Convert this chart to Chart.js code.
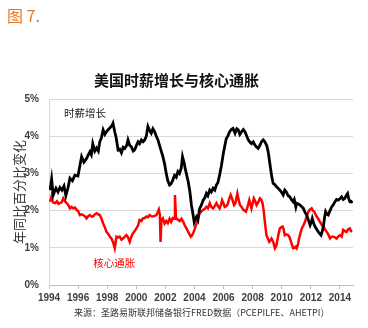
<!DOCTYPE html>
<html lang="zh">
<head>
<meta charset="UTF-8">
<title>美国时薪增长与核心通胀</title>
<script src="https://cdn.jsdelivr.net/npm/chart.js@4.4.1/dist/chart.umd.min.js"></script>
<style>
  body { margin: 0; background: #fff; }
  .wrap { position: relative; width: 368px; height: 328px; }
  #fig { position: absolute; left: 7px; top: 3px; font: 16px "Noto Sans CJK SC", sans-serif; color: #E87722; }
  #src { position: absolute; left: 74px; top: 306px; font: 9px "Noto Sans CJK SC", sans-serif; color: #333; white-space: nowrap; }
</style>
</head>
<body>
<div class="wrap">
  <canvas id="myChart" width="368" height="328"></canvas>
  <div id="fig">图 7.</div>
  <div id="src">来源：圣路易斯联邦储备银行FRED数据（PCEPILFE、AHETPI）</div>
</div>

<script>
// 时薪增长 (AHETPI, 年同比 %)
const wageYear = [1994.07,1994.18,1994.29,1994.48,1994.62,1994.75,1994.89,1995.03,1995.16,1995.3,1995.44,1995.61,1995.78,1995.99,
  1996.12,1996.24,1996.4,1996.58,1996.7,1996.81,1996.91,1997.01,1997.15,1997.27,1997.39,1997.49,1997.6,1997.72,1997.84,1997.95,
  1998.08,1998.18,1998.32,1998.4,1998.52,1998.62,1998.75,1998.86,1998.98,1999.1,1999.21,1999.34,1999.43,1999.55,1999.66,1999.79,1999.89,
  2000.01,2000.12,2000.23,2000.35,2000.47,2000.58,2000.69,2000.8,2000.92,2001.03,2001.14,2001.26,2001.38,2001.49,2001.64,2001.83,2001.95,
  2002.06,2002.17,2002.29,2002.39,2002.51,2002.63,2002.75,2002.86,2002.97,2003.09,2003.18,2003.28,2003.38,2003.57,2003.69,2003.79,2003.9,2003.98,
  2004.07,2004.14,2004.24,2004.36,2004.48,2004.6,2004.72,2004.82,2004.92,2005.05,2005.16,2005.28,2005.4,2005.51,2005.61,2005.73,2005.85,2005.97,
  2006.09,2006.19,2006.29,2006.42,2006.53,2006.65,2006.79,2006.91,2007.01,2007.12,2007.24,2007.36,2007.47,2007.6,2007.7,2007.8,2007.92,
  2008.04,2008.16,2008.28,2008.38,2008.49,2008.61,2008.73,2008.84,2008.97,2009.07,2009.23,2009.32,2009.41,2009.53,2009.64,2009.75,2009.87,2009.98,
  2010.1,2010.21,2010.32,2010.44,2010.55,2010.66,2010.78,2010.86,2010.97,2011.03,2011.14,2011.26,2011.38,2011.49,2011.6,2011.72,2011.83,2011.95,
  2012.04,2012.1,2012.2,2012.29,2012.4,2012.51,2012.61,2012.7,2012.79,2012.86,2012.94,2013.02,2013.11,2013.2,2013.32,2013.43,2013.54,2013.66,2013.77,2013.88,
  2014.0,2014.12,2014.23,2014.34,2014.43,2014.53,2014.62,2014.68,2014.77,2014.84];
const wageRate = [2.55,2.85,2.42,2.6,2.5,2.62,2.55,2.66,2.4,2.6,2.87,2.8,2.95,2.93,
  3.2,3.45,3.3,3.4,3.5,3.58,3.5,3.8,3.6,3.68,3.6,3.85,3.95,4.17,4.05,4.12,
  4.18,4.22,4.28,4.35,4.12,3.95,3.63,3.65,3.55,3.7,3.67,3.75,3.9,3.75,3.72,3.6,3.63,
  3.75,3.85,3.8,3.9,3.85,3.9,4.0,4.26,4.15,4.08,4.2,4.12,4.0,3.9,3.7,3.45,3.25,
  3.0,2.8,2.69,2.72,2.82,2.95,2.9,3.05,3.0,3.14,3.45,3.3,3.1,2.78,2.5,2.15,1.9,1.7,
  1.8,1.84,1.75,2.06,2.15,2.28,2.35,2.46,2.4,2.55,2.5,2.6,2.55,2.69,2.75,2.96,3.2,3.5,
  3.75,3.94,4.0,4.12,4.18,4.21,4.08,4.2,4.17,4.05,4.12,4.18,4.12,4.0,3.9,3.85,3.8,
  3.85,3.76,3.7,3.67,3.75,3.85,3.9,3.85,3.75,3.58,3.14,2.9,2.73,2.7,2.64,2.6,2.55,2.5,
  2.42,2.55,2.5,2.4,2.37,2.3,2.24,2.3,2.1,2.2,2.18,2.15,2.1,2.06,1.95,1.88,1.75,1.61,
  1.7,1.79,1.65,1.57,1.5,1.43,1.38,1.34,1.45,1.57,1.8,1.97,1.9,1.88,2.0,2.1,2.15,2.24,2.3,2.28,
  2.32,2.37,2.3,2.33,2.4,2.46,2.3,2.24,2.25,2.2];

// 核心通胀 (PCEPILFE, 年同比 %)
const coreYear = [1994.07,1994.18,1994.27,1994.41,1994.55,1994.65,1994.75,1994.87,1994.98,1995.1,1995.21,1995.32,1995.44,1995.55,1995.66,1995.78,1995.9,
  1996.01,1996.12,1996.24,1996.35,1996.47,1996.58,1996.69,1996.81,1996.92,1997.03,1997.15,1997.27,1997.38,1997.49,1997.61,1997.72,1997.84,1997.95,
  1998.06,1998.18,1998.29,1998.4,1998.52,1998.64,1998.75,1998.86,1998.98,1999.09,1999.21,1999.32,1999.43,1999.55,1999.66,1999.77,1999.89,
  2000.01,2000.12,2000.23,2000.35,2000.46,2000.58,2000.69,2000.8,2000.92,2001.03,2001.14,2001.26,2001.38,2001.47,2001.55,2001.62,2001.67,2001.73,2001.83,2001.95,
  2002.06,2002.17,2002.29,2002.4,2002.51,2002.6,2002.66,2002.73,2002.88,2002.99,2003.11,2003.23,2003.34,2003.45,2003.57,2003.66,2003.75,2003.83,2003.91,
  2004.02,2004.14,2004.25,2004.36,2004.48,2004.6,2004.71,2004.82,2004.93,2005.05,2005.16,2005.28,2005.39,2005.51,2005.62,2005.73,2005.82,2005.9,2005.99,
  2006.08,2006.17,2006.26,2006.38,2006.49,2006.6,2006.72,2006.81,2006.95,2007.03,2007.13,2007.24,2007.36,2007.45,2007.54,2007.65,2007.77,2007.86,2007.92,
  2008.0,2008.08,2008.18,2008.27,2008.38,2008.5,2008.59,2008.68,2008.76,2008.84,2008.95,2009.05,2009.14,2009.22,2009.3,2009.42,2009.53,2009.62,2009.68,2009.77,2009.87,2009.96,
  2010.05,2010.13,2010.21,2010.32,2010.44,2010.52,2010.6,2010.69,2010.78,2010.87,2010.97,2011.03,2011.12,2011.19,2011.28,2011.38,2011.49,2011.6,2011.72,2011.83,2011.95,
  2012.06,2012.15,2012.24,2012.32,2012.4,2012.51,2012.63,2012.75,2012.86,2012.97,2013.09,2013.2,2013.32,2013.43,2013.54,2013.66,2013.77,2013.88,
  2014.0,2014.12,2014.23,2014.34,2014.45,2014.57,2014.68,2014.77,2014.84];
const coreRate = [2.24,2.39,2.22,2.2,2.25,2.18,2.2,2.22,2.33,2.25,2.2,2.15,2.06,2.1,2.06,2.08,2.02,
  1.98,1.88,1.9,1.88,1.85,1.79,1.85,1.88,1.84,1.84,1.9,1.93,1.9,1.88,1.78,1.66,1.55,1.43,
  1.38,1.3,1.25,1.16,0.99,1.3,1.28,1.3,1.22,1.25,1.3,1.34,1.28,1.16,1.3,1.39,1.45,
  1.52,1.6,1.75,1.72,1.79,1.8,1.84,1.82,1.88,1.85,1.84,1.86,1.88,1.95,2.03,1.9,1.16,1.75,1.79,1.65,
  1.72,1.66,1.78,1.7,1.8,1.78,2.42,1.8,1.75,1.72,1.78,1.7,1.6,1.52,1.43,1.36,1.3,1.33,1.39,
  1.5,1.66,1.8,1.93,1.98,2.02,2.05,2.1,2.06,2.2,2.1,2.06,2.12,2.2,2.12,2.06,2.15,2.28,2.2,
  2.1,2.12,2.15,2.3,2.42,2.3,2.15,2.2,2.46,2.3,2.15,2.1,2.02,2.0,1.97,2.1,2.28,2.15,2.06,
  2.2,2.33,2.25,2.15,2.22,2.33,2.3,2.2,2.0,1.7,1.34,1.25,1.16,1.2,1.25,1.15,0.99,1.05,1.16,1.35,1.52,1.55,
  1.57,1.5,1.34,1.36,1.34,1.3,1.21,1.1,0.99,1.0,1.03,0.99,1.1,1.25,1.38,1.52,1.6,1.7,1.85,1.97,2.03,
  2.06,2.0,1.97,1.9,1.84,1.78,1.7,1.62,1.57,1.5,1.43,1.36,1.25,1.3,1.3,1.28,1.25,1.3,
  1.34,1.3,1.48,1.45,1.43,1.5,1.52,1.45,1.43];

const xTickYears = [1994,1996,1998,2000,2002,2004,2006,2008,2010,2012,2014];
const yTickValues = [0,1,2,3,4,5];
const seriesNames = ['时薪增长', '核心通胀'];
// label anchors in data units
const labelSpots = [[1996.47, 4.63], [1998.49, 0.58]];

const cjk = '"Noto Sans CJK SC", sans-serif';
const colors = ['#000000', '#FF0000'];

const toPts = (xs, ys) => xs.map((x, i) => ({x: x, y: ys[i]}));

// writes the series names inside the plot
const seriesLabels = {
  id: 'seriesLabels',
  afterDraw(chart) {
    const ctx = chart.ctx;
    const xs = chart.scales.x, ys = chart.scales.y;
    ctx.save();
    ctx.textAlign = 'center';
    ctx.textBaseline = 'middle';
    seriesNames.forEach((name, i) => {
      ctx.font = '10.5px ' + cjk;
      ctx.fillStyle = i === 0 ? '#1a1a1a' : '#FF0000';
      ctx.fillText(name, xs.getPixelForValue(labelSpots[i][0]), ys.getPixelForValue(labelSpots[i][1]));
    });
    ctx.restore();
  }
};

const ctx = document.getElementById('myChart').getContext('2d');
new Chart(ctx, {
  type: 'line',
  data: {
    datasets: [
      { label: seriesNames[0], data: toPts(wageYear, wageRate), borderColor: colors[0], borderWidth: 2.8 },
      { label: seriesNames[1], data: toPts(coreYear, coreRate), borderColor: colors[1], borderWidth: 2.5 }
    ]
  },
  options: {
    responsive: false,
    animation: false,
    layout: { padding: { top: 71, right: 15, bottom: 0, left: 0 } },
    elements: { point: { radius: 0 }, line: { tension: 0 } },
    plugins: {
      legend: { display: false },
      tooltip: { enabled: false },
      title: {
        display: true,
        text: '美国时薪增长与核心通胀',
        color: '#111',
        font: { family: cjk, size: 15, weight: 'bold', lineHeight: 1.2 },
        padding: { top: 0, bottom: 10 }
      }
    },
    scales: {
      x: {
        type: 'linear',
        min: 1994,
        max: 2014.9,
        afterBuildTicks: s => { s.ticks = xTickYears.map(v => ({value: v})); },
        afterFit: s => { s.height = 43; },
        grid: { drawOnChartArea: false, drawTicks: true, tickLength: 4, color: '#bfbfbf' },
        border: { color: '#bfbfbf' },
        ticks: {
          autoSkip: false, maxRotation: 0, padding: 3,
          color: '#404040',
          font: { family: '"Liberation Sans", Arial, sans-serif', size: 10, weight: 'bold' },
          callback: v => String(v)
        }
      },
      y: {
        min: 0,
        max: 5,
        afterBuildTicks: s => { s.ticks = yTickValues.map(v => ({value: v})); },
        afterFit: s => { s.width = 49; },
        grid: { color: '#d9d9d9', drawTicks: false },
        border: { color: '#d9d9d9' },
        ticks: {
          padding: 10,
          color: '#404040',
          font: { family: '"Liberation Sans", Arial, sans-serif', size: 10, weight: 'bold' },
          callback: v => v + '%'
        },
        title: {
          display: true,
          text: '年同比百分比变化',
          color: '#333',
          font: { family: cjk, size: 13, lineHeight: 1.2 },
          padding: { top: 11, bottom: 0 }
        }
      }
    }
  },
  plugins: [seriesLabels]
});
</script>
</body>
</html>
